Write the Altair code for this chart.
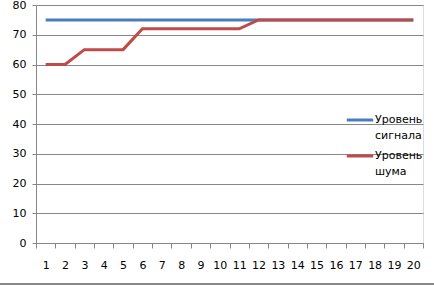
import altair as alt
import pandas as pd

x_vals = list(range(1, 21))
signal = [75] * 20
noise = [60, 60, 65, 65, 65, 72, 72, 72, 72, 72, 72, 75, 75, 75, 75, 75, 75, 75, 75, 75]
series_names = ["Уровень сигнала", "Уровень шума"]
colors = ["#4A7EBB", "#BE4B48"]

rows = []
for i, x in enumerate(x_vals):
    rows.append({"x": x, "value": signal[i], "series": series_names[0], "o": 0})
for i, x in enumerate(x_vals):
    rows.append({"x": x, "value": noise[i], "series": series_names[1], "o": 1})
df = pd.DataFrame(rows)

FONT = "DejaVu Sans"
GRID = "#878787"

lines = alt.Chart(df).mark_line(strokeWidth=3).encode(
    x=alt.X("x:O", bandPosition=0.5,
            scale=alt.Scale(type="band", paddingInner=0, paddingOuter=0),
            axis=alt.Axis(title=None, labelAngle=0, tickBand="extent", tickSize=5,
                          labelPadding=11, domainColor=GRID, tickColor=GRID,
                          labelFont=FONT, labelFontSize=11, labelColor="#000000")),
    y=alt.Y("value:Q", scale=alt.Scale(domain=[0, 80], nice=False),
            axis=alt.Axis(title=None, values=list(range(0, 81, 10)), tickSize=4,
                          labelPadding=6, grid=True, gridColor=GRID, domainColor=GRID,
                          tickColor=GRID, labelFont=FONT, labelFontSize=11,
                          labelColor="#000000")),
    color=alt.Color("series:N", scale=alt.Scale(domain=series_names, range=colors),
                    legend=alt.Legend(title=None, orient="none", legendX=309, legendY=100,
                                      symbolType="stroke", symbolStrokeWidth=3,
                                      symbolSize=700, labelFont=FONT, labelFontSize=11,
                                      labelColor="#000000", labelOffset=0,
                                      labelExpr="split(datum.label, ' ')",
                                      rowPadding=0)),
    order="o:Q",
)

border = alt.Chart(df).mark_rule(color=GRID, strokeWidth=1).encode(
    x=alt.value(-36), x2=alt.value(398), y=alt.value(279)
)

chart = alt.layer(border, lines).properties(
    width=387, height=238,
    autosize=alt.AutoSizeParams(type="none"),
    padding={"left": 36, "top": 5, "right": 11, "bottom": 47},
    background="white",
).configure_view(stroke=None).configure(style={"guide-label": {"lineHeight": 16}})

chart.save("out.html", embed_options={"renderer": "svg", "actions": False})
